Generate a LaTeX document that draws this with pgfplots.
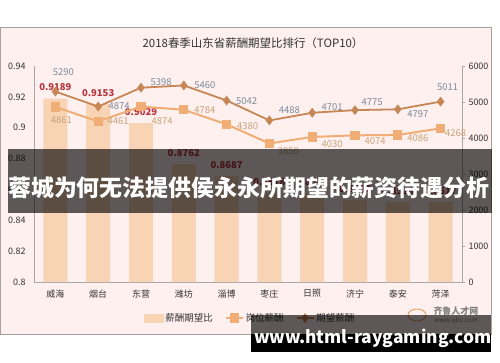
\documentclass[border=0pt]{standalone}
\usepackage{pgfplots}
\pgfplotsset{compat=1.18}
\usepackage{pgfplotstable}
\usepackage{fontspec}
\setmainfont{Noto Sans CJK SC}
\definecolor{bgc}{HTML}{FDF0EE}
\definecolor{barc}{HTML}{F8D3B4}
\definecolor{upc}{HTML}{C68656}
\definecolor{loc}{HTML}{F0AE76}
\definecolor{ratioc}{HTML}{B8323C}
\definecolor{uplab}{HTML}{7D8B9C}
\definecolor{lolab}{HTML}{C9A27A}
\definecolor{axc}{HTML}{A8A8A8}
\definecolor{txc}{HTML}{333333}
\definecolor{framec}{HTML}{A89F9F}

\pgfplotstableread{
x y lab
0 0.9189 0.9189
1 0.9153 0.9153
2 0.9029 0.9029
3 0.8762 0.8762
4 0.8687 0.8687
5 0.8578 0.8578
6 0.8573 0.8573
7 0.8532 0.8532
8 0.8518 0.8518
9 0.8517 0.8517
}\ratio

\pgfplotstableread{
x y dx dy
0 5290 8 19
1 4874 21 0
2 5398 20 6
3 5460 21 0
4 5042 20 -1
5 4488 20 10
6 4701 20 6
7 4775 17 8
8 4797 20 -5
9 5011 7 14
}\expect

\pgfplotstableread{
x y dx dy
0 4861 6 -13
1 4461 20 0
2 4874 21 -15
3 4784 21 0
4 4380 21 -2
5 3850 19 -8
6 4030 20 -7
7 4074 20 -6
8 4086 20 -3
9 4268 15 -5
}\post

\begin{document}
\begin{tikzpicture}
\begin{scope}[x=1bp,y=-1bp]
\useasboundingbox (0,0) rectangle (500,362);
\fill[white] (0,0) rectangle (500,362);
\filldraw[fill=bgc, draw=framec, line width=0.8bp] (0.5,27) rectangle (491,334);
\node[font=\fontsize{11.5}{12}\selectfont, text=txc] at (253,43) {2018春季山东省薪酬期望比排行（TOP10）};
% logo
\draw[color=loc!80!brown, line width=1bp] (417,315) ellipse (9 and 6);
\node[font=\bfseries\fontsize{9}{10}\selectfont, text=gray, anchor=west] at (430,311) {齐鲁人才网};
\node[font=\fontsize{6.5}{7}\selectfont, text=gray, anchor=west] at (431,321) {www.qlrc.com};
\end{scope}

\begin{axis}[
  at={(34bp,-282bp)}, anchor=south west,
  scale only axis, width=428bp, height=216bp,
  xmin=-0.5, xmax=9.5, ymin=0.8, ymax=0.94,
  axis x line*=bottom, axis y line*=left,
  axis line style={draw=axc, line width=0.8bp, -},
  xtick={0,...,9},
  xticklabels={威海,烟台,东营,潍坊,淄博,枣庄,日照,济宁,泰安,菏泽},
  ytick={0.8,0.82,0.84,0.86,0.88,0.9,0.92,0.94},
  major tick length=0pt,
  tick label style={font=\fontsize{9}{10}\selectfont, text=txc},
  /pgf/number format/assume math mode=true,
  yticklabel style={/pgf/number format/fixed, /pgf/number format/precision=2, xshift=-5bp},
  xticklabel style={yshift=-4bp},
]
\addplot[ybar, bar width=24bp, fill=barc, draw=none,
  point meta=explicit symbolic,
  nodes near coords,
  every node near coord/.append style={font=\bfseries\fontsize{9.5}{10}\selectfont, text=ratioc, yshift=4bp}]
  table[x=x,y=y,meta=lab]{\ratio};
\end{axis}

\begin{axis}[
  at={(34bp,-282bp)}, anchor=south west,
  scale only axis, width=428bp, height=216bp,
  xmin=-0.5, xmax=9.5, ymin=0, ymax=6000,
  axis x line=none, axis y line*=right,
  axis line style={draw=axc, line width=0.8bp, -},
  ytick={0,1000,2000,3000,4000,5000,6000}, scaled y ticks=false,
  major tick length=3bp, tick align=outside,
  tick style={draw=axc, line width=0.8bp},
  tick label style={font=\fontsize{9}{10}\selectfont, text=txc},
  /pgf/number format/assume math mode=true,
  /pgf/number format/1000 sep={},
  legend style={at={(0.505,-0.167)}, anchor=center, draw=none, fill=none,
    font=\fontsize{9.5}{10}\selectfont, text=txc,
    /tikz/every even column/.append style={column sep=10bp}},
  legend columns=-1,
]
\addlegendimage{legend image code/.code={\fill[barc] (0bp,-4bp) rectangle (19bp,4bp);}}
\addlegendentry{薪酬期望比}
\addplot[color=loc, line width=2bp, mark=square*, mark size=3.6bp,
  mark options={fill=loc, draw=loc},
  point meta=explicit symbolic,
  visualization depends on={\thisrow{dx} \as \lblx},
  visualization depends on={\thisrow{dy} \as \lbly},
  nodes near coords,
  every node near coord/.append style={anchor=center, xshift=\lblx bp, yshift=\lbly bp, text=lolab, font=\fontsize{9.5}{10}\selectfont}]
  table[x=x,y=y,meta=y]{\post};
\addlegendentry{岗位薪酬}
\addplot[color=upc, line width=1.8bp, mark=diamond*, mark size=3.5bp,
  mark options={fill=upc, draw=upc},
  point meta=explicit symbolic,
  visualization depends on={\thisrow{dx} \as \lblx},
  visualization depends on={\thisrow{dy} \as \lbly},
  nodes near coords,
  every node near coord/.append style={anchor=center, xshift=\lblx bp, yshift=\lbly bp, text=uplab, font=\fontsize{9.5}{10}\selectfont}]
  table[x=x,y=y,meta=y]{\expect};
\addlegendentry{期望薪酬}
\end{axis}

\begin{scope}[x=1bp,y=-1bp]
\fill[black, opacity=0.63] (8,149) rectangle (492,213);
\node[text=white, font=\bfseries\fontsize{23}{24}\selectfont, anchor=west, inner sep=0pt] at (8,188) {蓉城为何无法提供侯永永所期望的薪资待遇分析};
\fill[black, opacity=0.63] (251,315) rectangle (491,334);
\fill[black] (251,334) rectangle (491,352);
\node[text=white, font=\bfseries\fontsize{17.5}{18}\selectfont, anchor=base, inner sep=0pt] at (373,343) {www.html-raygaming.com};
\end{scope}
\end{tikzpicture}
\end{document}
